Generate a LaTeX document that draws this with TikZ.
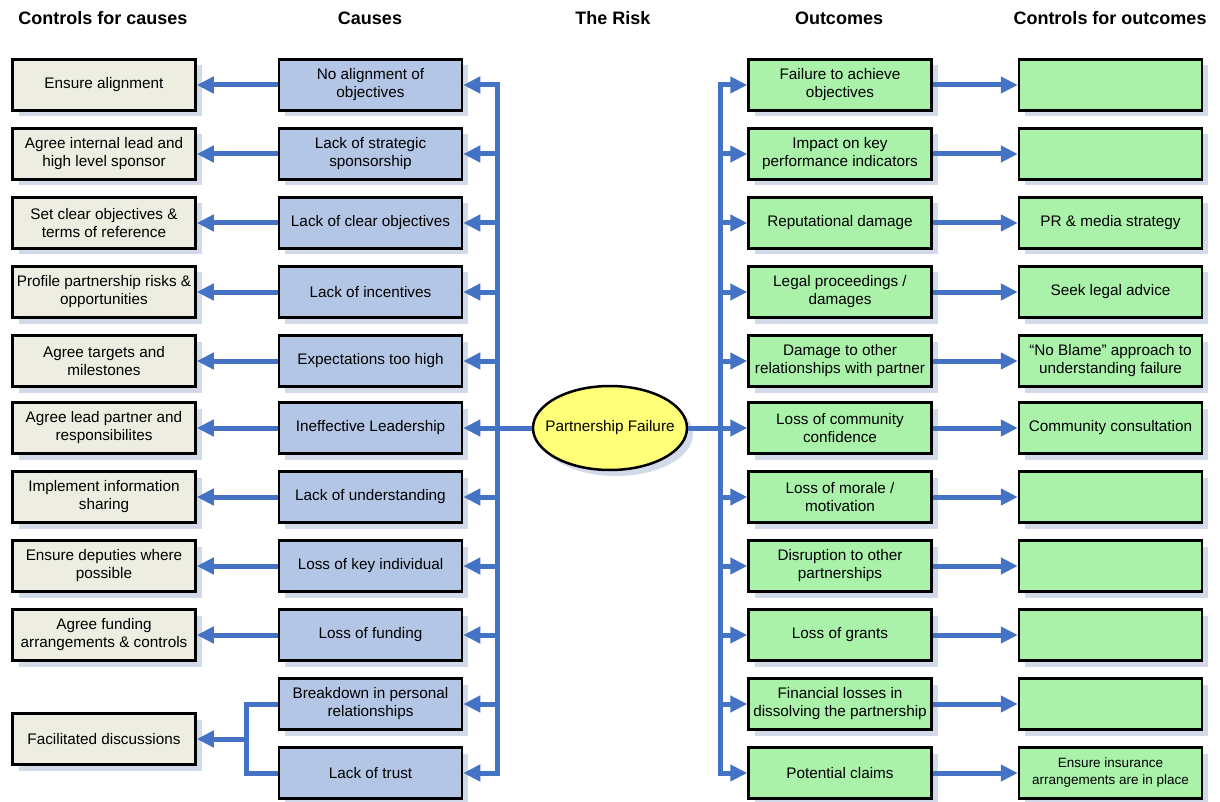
\documentclass[tikz,border=0pt]{standalone}
\usepackage{fontspec}
\setmainfont{Liberation Sans}
\usetikzlibrary{arrows.meta,shadows,shapes.geometric}

\definecolor{ctrlfill}{RGB}{237,238,225}
\definecolor{causefill}{RGB}{180,198,230}
\definecolor{outfill}{RGB}{170,242,170}
\definecolor{riskfill}{RGB}{255,255,120}
\definecolor{linkblue}{RGB}{68,114,196}
\definecolor{shadowc}{RGB}{210,218,233}

\tikzset{
  box/.style={draw=black, line width=2.5pt, minimum width=183pt, minimum height=51pt,
    inner sep=2pt, align=center, font=\fontsize{15.3}{18}\selectfont,
    drop shadow={shadow xshift=6pt, shadow yshift=-6pt, fill=shadowc, opacity=1}},
  ctrlbox/.style={box, fill=ctrlfill},
  causebox/.style={box, fill=causefill},
  outbox/.style={box, fill=outfill},
  header/.style={font=\fontsize{18}{20}\selectfont\bfseries},
  riskshape/.style={ellipse, draw=black, line width=2.5pt, fill=riskfill,
    minimum width=154pt, minimum height=84pt, inner xsep=-20pt, inner ysep=0pt,
    font=\fontsize{15.3}{18}\selectfont,
    drop shadow={shadow xshift=6pt, shadow yshift=-6pt, fill=shadowc, opacity=1}},
  arr/.style={draw=linkblue, line width=5pt, -{Triangle[length=17pt,width=16pt]}},
  link/.style={draw=linkblue, line width=5pt},
}

\begin{document}
\begin{tikzpicture}[x=1pt,y=-1pt]
\useasboundingbox (0,0) rectangle (1220,802);

% column headings
\node[header] (h1) at (103,18) {Controls for causes};
\node[header] (h2) at (370,18) {Causes};
\node[header] (h3) at (613,18) {The Risk};
\node[header] (h4) at (839,18) {Outcomes};
\node[header] (h5) at (1110,18) {Controls for outcomes};

% controls for causes
\node[ctrlbox] (k0) at (104,85)  {Ensure alignment};
\node[ctrlbox] (k1) at (104,154) {Agree internal lead and\\high level sponsor};
\node[ctrlbox] (k2) at (104,223) {Set clear objectives \&\\terms of reference};
\node[ctrlbox] (k3) at (104,292) {Profile partnership risks \&\\opportunities};
\node[ctrlbox] (k4) at (104,361) {Agree targets and\\milestones};
\node[ctrlbox] (k5) at (104,428) {Agree lead partner and\\responsibilites};
\node[ctrlbox] (k6) at (104,497) {Implement information\\sharing};
\node[ctrlbox] (k7) at (104,566) {Ensure deputies where\\possible};
\node[ctrlbox] (k8) at (104,635) {Agree funding\\arrangements \& controls};
\node[ctrlbox] (k9) at (104,739) {Facilitated discussions};

% causes
\node[causebox] (c0)  at (370.5,85)  {No alignment of\\objectives};
\node[causebox] (c1)  at (370.5,154) {Lack of strategic\\sponsorship};
\node[causebox] (c2)  at (370.5,223) {Lack of clear objectives};
\node[causebox] (c3)  at (370.5,292) {Lack of incentives};
\node[causebox] (c4)  at (370.5,361) {Expectations too high};
\node[causebox] (c5)  at (370.5,428) {Ineffective Leadership};
\node[causebox] (c6)  at (370.5,497) {Lack of understanding};
\node[causebox] (c7)  at (370.5,566) {Loss of key individual};
\node[causebox] (c8)  at (370.5,635) {Loss of funding};
\node[causebox] (c9)  at (370.5,704) {Breakdown in personal\\relationships};
\node[causebox] (c10) at (370.5,773) {Lack of trust};

% the risk
\node[riskshape] (risk) at (610,428) {Partnership Failure};

% outcomes
\node[outbox] (o0)  at (840,85)  {Failure to achieve\\objectives};
\node[outbox] (o1)  at (840,154) {Impact on key\\performance indicators};
\node[outbox] (o2)  at (840,223) {Reputational damage};
\node[outbox] (o3)  at (840,292) {Legal proceedings /\\damages};
\node[outbox] (o4)  at (840,361) {Damage to other\\relationships with partner};
\node[outbox] (o5)  at (840,428) {Loss of community\\confidence};
\node[outbox] (o6)  at (840,497) {Loss of morale /\\motivation};
\node[outbox] (o7)  at (840,566) {Disruption to other\\partnerships};
\node[outbox] (o8)  at (840,635) {Loss of grants};
\node[outbox] (o9)  at (840,704) {Financial losses in\\dissolving the partnership};
\node[outbox] (o10) at (840,773) {Potential claims};

% controls for outcomes
\node[outbox] (p0)  at (1110.5,85)  {};
\node[outbox] (p1)  at (1110.5,154) {};
\node[outbox] (p2)  at (1110.5,223) {PR \& media strategy};
\node[outbox] (p3)  at (1110.5,292) {Seek legal advice};
\node[outbox] (p4)  at (1110.5,361) {“No Blame” approach to\\understanding failure};
\node[outbox] (p5)  at (1110.5,428) {Community consultation};
\node[outbox] (p6)  at (1110.5,497) {};
\node[outbox] (p7)  at (1110.5,566) {};
\node[outbox] (p8)  at (1110.5,635) {};
\node[outbox] (p9)  at (1110.5,704) {};
\node[outbox, font=\fontsize{13.5}{17}\selectfont] (p10) at (1110.5,773) {Ensure insurance\\arrangements are in place};

% bus junctions
\coordinate (busL) at (497,428);
\coordinate (busR) at (720,428);
\coordinate (joinF) at (246,739);

% risk to causes
\draw[link] (risk.west) -- (busL);
\foreach \i in {0,...,10} {
  \draw[arr] (busL) |- (c\i.east);
}

% risk to outcomes
\draw[link] (risk.east) -- (busR);
\foreach \i in {0,...,10} {
  \draw[arr] (busR) |- (o\i.west);
}

% causes to their controls
\foreach \i in {0,...,8} {
  \draw[arr] (c\i.west) -- (k\i.east);
}
\draw[link] (c9.west) -| (joinF);
\draw[link] (c10.west) -| (joinF);
\draw[arr] (joinF) -- (k9.east);

% outcomes to their controls
\foreach \i in {0,...,10} {
  \draw[arr] (o\i.east) -- (p\i.west);
}
\end{tikzpicture}
\end{document}
